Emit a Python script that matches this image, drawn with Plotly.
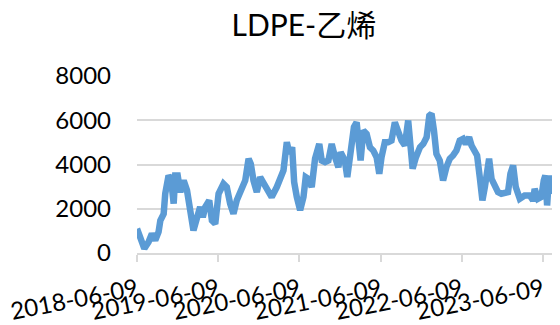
import plotly.graph_objects as go

dates = [
    "2018-06-09", "2018-06-24", "2018-07-12", "2018-07-31", "2018-08-15", "2018-08-30",
    "2018-09-14", "2018-09-22", "2018-10-07", "2018-10-14", "2018-10-29", "2018-11-09",
    "2018-11-21", "2018-11-28", "2018-12-09", "2018-12-21", "2019-01-05", "2019-01-20",
    "2019-02-01", "2019-02-18", "2019-03-05", "2019-03-20", "2019-04-01", "2019-04-12",
    "2019-04-30", "2019-05-12", "2019-05-27", "2019-06-11", "2019-07-03", "2019-07-18",
    "2019-08-02", "2019-08-17", "2019-09-01", "2019-09-24", "2019-10-09", "2019-10-24",
    "2019-11-03", "2019-11-15", "2019-11-30", "2019-12-15", "2019-12-30", "2020-01-14",
    "2020-02-05", "2020-02-28", "2020-03-14", "2020-03-29", "2020-04-13", "2020-04-25",
    "2020-05-07", "2020-05-16", "2020-05-28", "2020-06-12", "2020-06-27", "2020-07-07",
    "2020-07-19", "2020-08-03", "2020-08-18", "2020-09-06", "2020-09-17", "2020-10-02",
    "2020-10-17", "2020-11-01", "2020-11-16", "2020-12-01", "2020-12-11", "2020-12-30",
    "2021-01-10", "2021-01-22", "2021-01-30", "2021-02-09", "2021-02-21", "2021-03-01",
    "2021-03-11", "2021-03-23", "2021-04-07", "2021-04-22", "2021-05-07", "2021-05-22",
    "2021-06-03", "2021-06-13", "2021-06-28", "2021-07-13", "2021-07-28", "2021-08-12",
    "2021-08-27", "2021-09-11", "2021-09-26", "2021-10-11", "2021-10-22", "2021-10-31",
    "2021-11-15", "2021-12-03", "2021-12-18", "2022-01-02", "2022-01-14", "2022-01-24",
    "2022-02-04", "2022-02-15", "2022-03-02", "2022-03-17", "2022-04-01", "2022-04-16",
    "2022-05-01", "2022-05-16", "2022-05-31", "2022-06-15", "2022-06-27", "2022-07-12",
    "2022-07-23", "2022-08-07", "2022-08-17", "2022-08-29", "2022-09-10", "2022-09-21",
    "2022-10-01", "2022-10-10", "2022-10-21", "2022-11-05", "2022-11-19", "2022-12-04",
    "2022-12-19", "2023-01-03", "2023-01-14", "2023-01-26", "2023-02-07", "2023-02-25",
    "2023-03-19", "2023-04-11", "2023-04-26", "2023-05-03", "2023-05-18", "2023-06-02",
    "2023-06-13", "2023-06-20", "2023-06-28", "2023-07-07", "2023-07-17", "2023-07-24",
    "2023-08-05", "2023-08-16",
]

values = [
    1100, 650, 200, 500, 870, 570,
    950, 1470, 1770, 2680, 3500, 3350,
    2230, 3500, 3500, 2750, 3280, 2830,
    1850, 1020, 1550, 2080, 1620, 2080,
    2380, 1470, 1320, 2680, 3130, 2980,
    2230, 1770, 2380, 2830, 3280, 4260,
    4030, 3280, 2750, 3430, 3130, 2980,
    2530, 2980, 3430, 3730, 5010, 4480,
    4780, 3200, 2530, 1930, 2530, 3430,
    3350, 2980, 4260, 4930, 4180, 4110,
    4180, 4930, 4330, 3880, 4560, 4180,
    3430, 4480, 4780, 5690, 5910, 4930,
    4180, 5530, 5380, 4780, 4630, 4330,
    3580, 4330, 5010, 5010, 5080, 5910,
    5380, 5080, 4860, 5990, 4780, 3810,
    4330, 4780, 4930, 5230, 6210, 6290,
    5530, 4480, 4180, 3280, 3880, 4260,
    4410, 4630, 5080, 5160, 4930, 5230,
    4860, 4630, 4410, 3430, 2380, 2980,
    3730, 4260, 3350, 3050, 2750, 2680,
    2680, 2750, 3580, 3960, 2980, 2450,
    2600, 2600, 2380, 2900, 2450, 2530,
    3280, 3500, 2150, 3500, 2680, 3430,
    2750, 3280,
]

tick_dates = ["2018-06-09", "2019-06-09", "2020-06-09", "2021-06-09", "2022-06-09", "2023-06-09"]
tick_labels = ["2018-06-09", "2019-06-09", "2020-06-09", "2021-06-09", "2022-06-09", "2023-06-09"]
y_ticks = [0, 2000, 4000, 6000, 8000]

FONT = "Lato, 'Noto Sans CJK SC', sans-serif"

fig = go.Figure()
fig.add_trace(go.Scatter(
    x=dates, y=values, mode="lines",
    line=dict(color="#5B9BD5", width=6.5),
    hoverinfo="skip",
))

fig.update_layout(
    width=552, height=317,
    margin=dict(l=129, r=2, t=68, b=72, autoexpand=False),
    paper_bgcolor="white", plot_bgcolor="white",
    showlegend=False,
    title=dict(text="LDPE-乙烯", x=0.536, xanchor="center", y=0.944, yanchor="middle",
               font=dict(family=FONT, size=30, color="#000000")),
    font=dict(family=FONT, color="#000000"),
)
fig.update_xaxes(
    type="date",
    range=["2018-06-09", "2023-08-16"],
    tickvals=tick_dates, ticktext=tick_labels,
    tickangle=-11,
    tickfont=dict(family=FONT, size=24, color="#000000"),
    showgrid=False,
    showline=True, linecolor="#D9D9D9", linewidth=1.5,
    ticks="outside", ticklen=7, tickcolor="#D9D9D9", tickwidth=1.5,
    zeroline=False, automargin=False,
    ticklabelstandoff=5,
    ticklabeloverflow="allow",
)
fig.update_yaxes(
    range=[0, 8000],
    tickvals=y_ticks,
    tickfont=dict(family=FONT, size=24, color="#000000"),
    showgrid=True, gridcolor="#D9D9D9", gridwidth=1.5,
    zeroline=False, showline=False, automargin=False,
    ticklabelstandoff=25,
)

fig.write_html("out.html")
